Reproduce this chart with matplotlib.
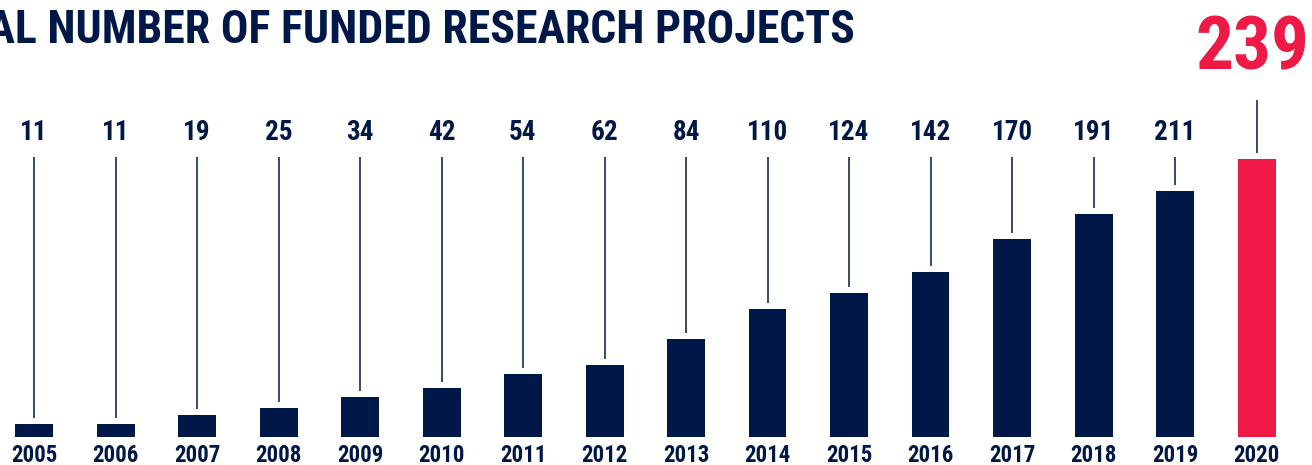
import matplotlib
matplotlib.use("Agg")
import matplotlib.pyplot as plt
from matplotlib import font_manager
from matplotlib.transforms import blended_transform_factory

years = ["2005", "2006", "2007", "2008", "2009", "2010", "2011", "2012",
         "2013", "2014", "2015", "2016", "2017", "2018", "2019", "2020"]
values = [11, 11, 19, 25, 34, 42, 54, 62, 84, 110, 124, 142, 170, 191, 211, 239]
title = "TOTAL NUMBER OF FUNDED RESEARCH PROJECTS"

NAVY = "#001847"
RED = "#EE1A45"

names = {f.name for f in font_manager.fontManager.ttflist}
family = "DejaVu Sans"
for cand in ["Liberation Sans Narrow", "DejaVu Sans Condensed", "Roboto Condensed", "Open Sans Condensed"]:
    if cand in names:
        family = cand
        break
plt.rcParams["font.family"] = [family, "DejaVu Sans"]

W, H = 1312, 465
fig = plt.figure(figsize=(W / 100, H / 100), dpi=100)
ax = fig.add_axes([0, 0, 1, 1])
ax.set_axis_off()

px0, step = 34, 81.5
ppu = 1.165
base_px = 28
ax.set_xlim((0 - px0) / step, (W - px0) / step)
ax.set_ylim(-base_px / ppu, (H - base_px) / ppu)

x = list(range(len(years)))
colors = [NAVY] * (len(years) - 1) + [RED]
ax.bar(x, values, width=38 / step, color=colors, zorder=2)

def py(px_from_top):
    return (H - px_from_top - base_px) / ppu

gap = 6 / ppu
for i, v in enumerate(values):
    top = py(100) if i == len(values) - 1 else py(157)
    ax.vlines(i, v + gap, top, color=NAVY, linewidth=1.1, zorder=1)

tr = blended_transform_factory(ax.transData, ax.transAxes)
for i, (yr, v) in enumerate(zip(years, values)):
    ax.text(i, 1 - 455 / H, yr, transform=tr, ha="center", va="center",
            fontsize=16.5, fontweight="bold", color=NAVY)
    if i < len(values) - 1:
        ax.text(i, 1 - 133 / H, str(v), transform=tr, ha="center", va="center",
                fontsize=19.5, fontweight="bold", color=NAVY)

fig.text(1309 / W, 1 - 50 / H, str(values[-1]), ha="right", va="center",
         fontsize=54, fontweight="bold", color=RED)

fig.text(855 / W, 1 - 30 / H, title, ha="right", va="center",
         fontsize=33, fontweight="bold", color=NAVY)

fig.savefig("out.png", dpi=100)
